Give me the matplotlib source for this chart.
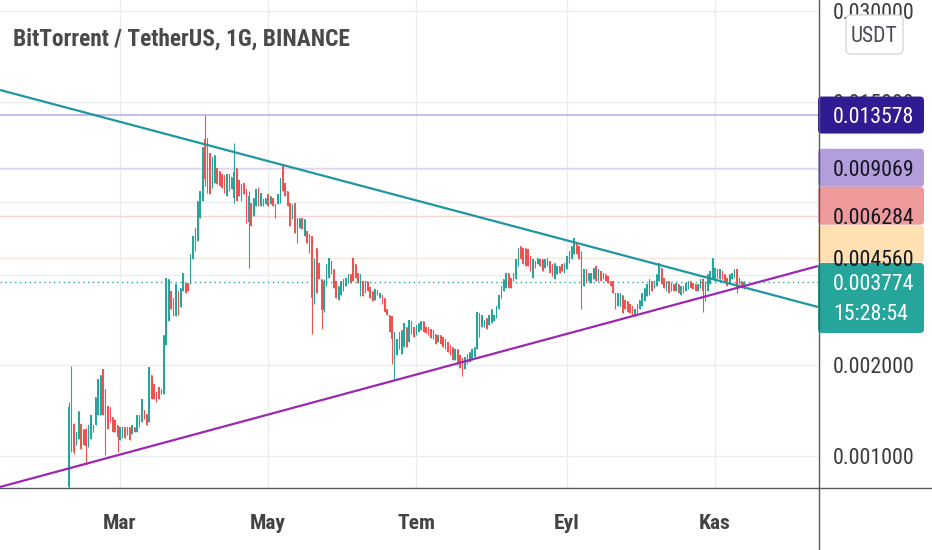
import os
import numpy as np
import pandas as pd
import matplotlib
matplotlib.use('Agg')
import matplotlib.pyplot as plt
import matplotlib.dates as mdates
from matplotlib import font_manager as fm
from matplotlib.lines import Line2D
from matplotlib.patches import FancyBboxPatch
from matplotlib.transforms import IdentityTransform
from matplotlib.ticker import NullLocator

# Daily BTT/USDT candles starting 2021-02-08, prices in micro-USDT (1e-6).
start_day = '2021-02-08'
opens = [
    790, 1040, 1280, 1090, 1135, 1280, 1230, 1230, 1070, 1135,
    1200, 1270, 1370, 1370, 1950, 1675, 1470, 1450, 1350, 1320,
    1270, 1130, 1150, 1250, 1170, 1250, 1180, 1250, 1200, 1250,
    1300, 1420, 1380, 1300, 1860, 1735, 1630, 1700, 1605, 1605,
    2330, 2800, 3530, 3340, 2910, 3530, 3120, 3530, 3750, 3750,
    3720, 4510, 4800, 5180, 6190, 7050, 11300, 11370, 10130, 7790,
    8100, 9080, 8880, 8680, 8550, 7330, 7620, 7730, 7200, 9080,
    8230, 7050, 8100, 7730, 6000, 6940, 6280, 6790, 7790, 6790,
    6790, 6890, 7440, 6890, 7220, 6890, 6890, 6940, 9230, 8100,
    7620, 6940, 6140, 6940, 5100, 5730, 6190, 5390, 5600, 5470,
    5390, 3340, 4910, 4380, 3870, 3050, 3670, 3900, 4440, 4180,
    3810, 3310, 3440, 3530, 3670, 3750, 4020, 4550, 4340, 4050,
    3390, 3810, 3470, 3810, 3640, 3530, 3310, 3560, 3340, 3440,
    3340, 3090, 2950, 2910, 2400, 2170, 2260, 2190, 2310, 2690,
    2400, 2800, 2690, 2530, 2590, 2630, 2800, 2690, 2690, 2650,
    2450, 2550, 2400, 2530, 2490, 2450, 2400, 2330, 2310, 2090,
    2260, 2170, 2110, 1940, 2020, 2060, 2090, 2140, 2270, 2490,
    2690, 2690, 2870, 2730, 2760, 2800, 2870, 3070, 3340, 3530,
    3610, 4050, 3900, 3810, 3870, 4280, 4990, 4910, 4910, 4870,
    4620, 3900, 4210, 4340, 4510, 4510, 4210, 4280, 4440, 4340,
    3870, 4020, 4280, 4340, 4050, 4180, 4380, 4510, 4690, 5060,
    4990, 4730, 3670, 4180, 3810, 3750, 3870, 4280, 3810, 4110,
    4050, 4020, 3960, 3810, 3810, 3470, 3140, 3160, 3440, 3310,
    3270, 3190, 3140, 2910, 2980, 3070, 3160, 3270, 3390, 3440,
    3810, 3610, 3670, 3810, 4210, 3900, 3530, 3810, 3750, 3720,
    3530, 3720, 3440, 3670, 3530, 3580, 3810, 3750, 3720, 3530,
    3610, 3870, 3500, 3530, 3720, 3870, 3810, 4180, 3870, 4110,
    4020, 3900, 3750, 3870, 3900, 4180, 3720, 3810, 3620,
]
highs = [
    1510, 1995, 1290, 1200, 1410, 1280, 1230, 1235, 1270, 1370,
    1270, 1570, 1800, 1860, 1950, 1675, 1470, 1450, 1350, 1320,
    1270, 1250, 1250, 1250, 1250, 1250, 1270, 1250, 1370, 1370,
    1545, 1420, 1380, 1980, 1860, 1735, 1630, 1700, 1675, 2530,
    3900, 3870, 3530, 3340, 3720, 3530, 3610, 4050, 3750, 3750,
    4690, 5390, 5730, 7050, 7620, 10610, 13580, 11370, 10130, 9820,
    9970, 9080, 8880, 8680, 8550, 8680, 8680, 8420, 10940, 9080,
    8230, 8040, 8100, 7730, 7620, 6940, 7220, 7730, 7790, 7500,
    7160, 7220, 7440, 7330, 7220, 6890, 7440, 8360, 9230, 8100,
    7620, 6940, 6890, 6940, 6190, 6190, 6190, 6140, 5600, 5470,
    5390, 4550, 4910, 4380, 3870, 3870, 4340, 4550, 4440, 4180,
    3810, 3670, 3810, 3870, 3900, 4020, 4020, 4550, 4340, 4050,
    4020, 3810, 3810, 3810, 3640, 3530, 3580, 3560, 3470, 3440,
    3340, 3090, 2950, 2910, 2590, 2450, 2590, 2630, 2760, 2690,
    2840, 2800, 2690, 2730, 2760, 2800, 2800, 2690, 2690, 2650,
    2630, 2550, 2530, 2530, 2490, 2450, 2400, 2330, 2310, 2270,
    2260, 2170, 2110, 2140, 2190, 2220, 2260, 2310, 3020, 2980,
    2950, 2840, 2870, 2950, 3070, 2950, 3160, 3440, 3670, 3870,
    4050, 4050, 3900, 4050, 4510, 4910, 4990, 4910, 4910, 4870,
    4620, 4510, 4440, 4550, 4510, 4510, 4510, 4550, 4440, 4340,
    4380, 4280, 4280, 4340, 4380, 4620, 4800, 4990, 5300, 5060,
    4990, 4800, 4180, 4180, 4050, 4050, 4210, 4280, 4180, 4110,
    4050, 4020, 3960, 3810, 3810, 3470, 3470, 3470, 3440, 3310,
    3270, 3190, 3140, 3090, 3190, 3310, 3470, 3610, 3720, 3870,
    3810, 3810, 4020, 4380, 4210, 3900, 3810, 3810, 3750, 3720,
    3750, 3720, 3670, 3670, 3750, 3810, 3810, 3750, 3720, 3720,
    3870, 3900, 3810, 4020, 4110, 4550, 4210, 4180, 4180, 4110,
    4020, 3900, 4020, 4050, 4180, 4180, 3900, 3810, 3810,
]
lows = [
    760, 1030, 1015, 1090, 1135, 1055, 1090, 935, 1070, 1135,
    1200, 1270, 1370, 1370, 1370, 1005, 1230, 1300, 1200, 1200,
    1030, 1130, 1150, 1150, 1170, 1130, 1180, 1200, 1200, 1250,
    1300, 1330, 1270, 1300, 1545, 1545, 1510, 1545, 1605, 1605,
    2330, 2800, 3070, 2910, 2910, 2950, 3120, 3530, 3470, 3530,
    3720, 4510, 4800, 5180, 6190, 7050, 7910, 7500, 7440, 7790,
    8100, 8040, 7910, 7790, 7500, 7330, 7620, 7730, 6940, 7050,
    7330, 7050, 7440, 5960, 4210, 5820, 6280, 6790, 6790, 6790,
    6790, 6890, 6790, 6890, 6790, 6190, 6890, 6940, 7620, 7330,
    6790, 5820, 6140, 5510, 5100, 5730, 5690, 5390, 5100, 4730,
    2550, 3200, 3470, 3870, 2650, 3020, 3670, 3900, 4020, 3610,
    3340, 3310, 3440, 3530, 3670, 3750, 3750, 3810, 3900, 3750,
    3390, 3390, 3470, 3530, 3340, 3270, 3310, 3420, 3340, 3190,
    3020, 2950, 2590, 2020, 1790, 2170, 2260, 2190, 2310, 2310,
    2400, 2550, 2490, 2530, 2590, 2630, 2590, 2570, 2530, 2470,
    2450, 2360, 2400, 2360, 2310, 2260, 2220, 2170, 2090, 2090,
    2020, 1960, 1850, 1940, 2020, 2060, 2090, 2140, 2270, 2490,
    2690, 2690, 2650, 2730, 2760, 2800, 2870, 3070, 3340, 3530,
    3610, 3610, 3610, 3810, 3870, 4280, 4510, 4340, 4280, 4280,
    4110, 3900, 4210, 4340, 4280, 4110, 4210, 4280, 4050, 3960,
    3870, 4020, 4050, 4110, 4050, 4180, 4380, 4510, 4690, 4690,
    4510, 3070, 3670, 3750, 3810, 3750, 3870, 3810, 3810, 3810,
    3870, 3810, 3750, 3670, 3470, 3070, 3140, 3160, 2980, 3070,
    3020, 2980, 2950, 2910, 2980, 3070, 3160, 3270, 3390, 3440,
    3530, 3610, 3670, 3810, 3720, 3610, 3530, 3470, 3530, 3530,
    3530, 3470, 3440, 3470, 3530, 3580, 3610, 3580, 3530, 3530,
    3610, 3020, 3270, 3530, 3720, 3870, 3810, 3900, 3870, 3870,
    3810, 3670, 3750, 3870, 3900, 3470, 3720, 3610, 3580,
]
closes = [
    1450, 1960, 1030, 1200, 1410, 1055, 1090, 1080, 1270, 1370,
    1270, 1570, 1800, 1860, 1370, 1320, 1230, 1300, 1200, 1200,
    1160, 1250, 1250, 1150, 1250, 1130, 1270, 1200, 1370, 1370,
    1545, 1330, 1270, 1980, 1545, 1545, 1510, 1545, 1675, 2530,
    3900, 3870, 3070, 2910, 3720, 2950, 3610, 4050, 3470, 3530,
    4690, 5390, 5730, 7050, 7620, 10610, 8300, 7500, 7440, 9820,
    9970, 8040, 7910, 7790, 7500, 8680, 8680, 8420, 8800, 7050,
    7330, 8040, 7440, 5960, 7300, 5820, 7220, 7730, 6790, 7500,
    7160, 7220, 6790, 7330, 6790, 6190, 7440, 8360, 7620, 7330,
    6790, 5820, 6890, 5510, 6190, 6190, 5690, 6140, 5100, 4730,
    3340, 4450, 3470, 3870, 3050, 3800, 4340, 4550, 4020, 3610,
    3340, 3670, 3810, 3870, 3900, 4020, 3750, 3810, 3900, 3750,
    4020, 3390, 3810, 3530, 3340, 3270, 3580, 3420, 3470, 3190,
    3020, 2950, 2590, 2450, 2590, 2450, 2590, 2630, 2760, 2310,
    2840, 2550, 2490, 2730, 2760, 2800, 2590, 2570, 2530, 2470,
    2630, 2360, 2530, 2360, 2310, 2260, 2220, 2170, 2090, 2270,
    2020, 1960, 1850, 2140, 2190, 2220, 2260, 2310, 3020, 2980,
    2950, 2840, 2650, 2950, 3070, 2950, 3160, 3440, 3670, 3870,
    4050, 3610, 3610, 4050, 4510, 4910, 4510, 4340, 4280, 4280,
    4110, 4510, 4440, 4550, 4280, 4110, 4510, 4550, 4050, 3960,
    4380, 4280, 4050, 4110, 4380, 4620, 4800, 4990, 5300, 4690,
    4510, 3670, 4180, 3750, 4050, 4050, 4210, 3810, 4180, 3810,
    3870, 3810, 3750, 3670, 3470, 3070, 3470, 3470, 2980, 3070,
    3020, 2980, 2950, 3090, 3190, 3310, 3470, 3610, 3720, 3870,
    3530, 3810, 4020, 4380, 3720, 3610, 3810, 3470, 3530, 3530,
    3750, 3470, 3670, 3470, 3750, 3810, 3610, 3580, 3530, 3720,
    3870, 3530, 3780, 4020, 4110, 4550, 4210, 3900, 4180, 3870,
    3810, 3670, 4020, 4050, 4180, 3610, 3900, 3610, 3774,
]

title = 'BitTorrent / TetherUS, 1G, BINANCE'
month_ticks = ['2021-03-01', '2021-05-01', '2021-07-01', '2021-09-01', '2021-11-01']
month_labels = ['Mar', 'May', 'Tem', 'Eyl', 'Kas']
price_ticks = [0.001, 0.002, 0.004, 0.007, 0.009, 0.015, 0.03]
# the 0.004 / 0.007 / 0.009 labels sit under the level tags, so they stay blank
price_tick_labels = ['0.001000', '0.002000', '', '', '', '0.015000', '0.030000']

# horizontal levels and their axis tags
levels = [0.013578, 0.009069, 0.006284, 0.004560]
level_labels = ['0.013578', '0.009069', '0.006284', '0.004560']
last_price = 0.003774
last_label = '0.003774'
countdown = '15:28:54'

# trend lines, given by their two ends
res_dates = ['2021-01-10 14:00', '2021-12-13 10:00']
res_prices = [0.016447, 0.0031266]
sup_dates = ['2021-01-10 14:00', '2021-12-13 10:00']
sup_prices = [0.000789, 0.0042775]

UP, DOWN = '#26a69a', '#ef5350'
W, H = 932, 550


def pick_font(target):
    prefs = [('Roboto Condensed', ''), ('Liberation Sans Narrow', ''),
             ('DejaVu Sans', 'Condensed'), ('Roboto', None)]
    for fam, key in prefs:
        cands = []
        for f in fm.fontManager.ttflist:
            base = os.path.basename(f.fname)
            if f.style != 'normal':
                continue
            if key is None:
                ok = f.name == fam and 'Condensed' not in base
            else:
                ok = f.name.startswith(fam) and key in base
            if ok:
                w = f.weight if isinstance(f.weight, (int, float)) else fm.weight_dict.get(f.weight, 400)
                cands.append((abs(w - target), f.fname))
        if cands:
            return fm.FontProperties(fname=min(cands)[1])
    return fm.FontProperties(family='DejaVu Sans', weight=target)


fig = plt.figure(figsize=(W / 100, H / 100), dpi=100)
ax = fig.add_axes([0, 62 / H, 818 / W, 488 / H])
renderer = fig.canvas.get_renderer()


def fitted(prop, text, width_px):
    p = prop.copy()
    p.set_size(10)
    w, _, _ = renderer.get_text_width_height_descent(text, p, ismath=False)
    p.set_size(10 * width_px / w)
    return p


regular = pick_font(400)
bold = pick_font(700)
title_prop = fitted(bold, title, 336)
month_prop = fitted(bold, 'May', 36)
price_prop = fitted(regular, '0.002000', 80)
usdt_prop = fitted(regular, 'USDT', 47)

# candles
dates = mdates.date2num(pd.date_range(start_day, periods=len(closes), freq='D'))
o = np.array(opens) * 1e-6
h = np.array(highs) * 1e-6
l = np.array(lows) * 1e-6
c = np.array(closes) * 1e-6
colors = np.where(c >= o, UP, DOWN)

ax.set_yscale('log')
ax.set_axisbelow(True)
ax.grid(True, color='#e9ecf1', lw=1.0)

ax.axhline(levels[0], color='#c4bcea', lw=1.4, zorder=1)
ax.axhline(levels[1], color='#dcd4f0', lw=1.0, zorder=1)
ax.axhline(levels[2], color='#f4d3d3', lw=1.0, zorder=1)
ax.axhline(levels[3], color='#f4e8da', lw=1.0, zorder=1)
ax.axhline(last_price, color=UP, lw=1.0, ls=(0, (1, 2.5)), zorder=1)

ax.vlines(dates, l, h, colors=colors, lw=0.8, zorder=3)
ax.bar(dates, np.abs(c - o), bottom=np.minimum(o, c), width=0.62,
       color=colors, lw=0, zorder=3)

ax.plot(mdates.date2num(pd.to_datetime(res_dates)), res_prices,
        color='#1d97a1', lw=1.6, zorder=4, solid_capstyle='butt')
ax.plot(mdates.date2num(pd.to_datetime(sup_dates)), sup_prices,
        color='#9c27b0', lw=1.6, zorder=4, solid_capstyle='butt')

t0 = pd.Timestamp(start_day)
ax.set_xlim(mdates.date2num(t0 - pd.Timedelta(days=28.41)),
            mdates.date2num(t0 + pd.Timedelta(days=308.41)))
ax.set_ylim(0.00078294, 0.032733)

for s in ax.spines.values():
    s.set_visible(False)

ax.tick_params(axis='x', length=0, pad=29.5)
ax.set_xticks(mdates.date2num(pd.to_datetime(month_ticks)))
ax.set_xticklabels(month_labels, fontproperties=month_prop, color='#434343', va='baseline')

ax.yaxis.tick_right()
ax.tick_params(axis='y', length=0, pad=10.8)
ax.set_yticks(price_ticks)
ax.set_yticklabels(price_tick_labels, fontproperties=price_prop, color='#3b3b3b')
ax.yaxis.set_minor_locator(NullLocator())
ax.xaxis.set_minor_locator(NullLocator())

# frame lines of the price and time scales
fig.add_artist(Line2D([818.5, 818.5], [0, H], transform=IdentityTransform(), color='#55585f', lw=1.0))
fig.add_artist(Line2D([0, W], [62, 62], transform=IdentityTransform(), color='#55585f', lw=1.0))

fig.text(13 / W, 1 - 46 / H, title, fontproperties=title_prop, color='#4a4a4a', va='baseline')


def price_y(price):
    return ax.transData.transform((ax.get_xlim()[0], price))[1]


def tag(price, lines, face, tcolor, top_off, bot_off):
    y = price_y(price)
    box = FancyBboxPatch((818, y - bot_off), 106, top_off + bot_off,
                         boxstyle='round,pad=0,rounding_size=4', fc=face, ec='none',
                         transform=IdentityTransform())
    fig.add_artist(box)
    for i, s in enumerate(lines):
        fig.text(833, y - 30 * i, s, transform=IdentityTransform(), fontproperties=price_prop,
                 color=tcolor, va='center_baseline', ha='left')


tag(levels[0], [level_labels[0]], '#311b92', 'white', 18.5, 18.5)
tag(levels[1], [level_labels[1]], '#b39ddb', '#131722', 19, 19)
tag(levels[2], [level_labels[2]], '#ef9a9a', '#131722', 29, 9)
tag(levels[3], [level_labels[3]], '#ffe0b2', '#131722', 32, 5)
tag(last_price, [last_label, countdown], UP, 'white', 19.4, 50.6)

usdt = FancyBboxPatch((846, H - 54), 57, 39, boxstyle='round,pad=0,rounding_size=5',
                      fc='white', ec='#d4d7de', lw=1.0, transform=IdentityTransform())
fig.add_artist(usdt)
fig.text(874.5, H - 34.5, 'USDT', transform=IdentityTransform(), fontproperties=usdt_prop,
         color='#4a4d55', ha='center', va='center_baseline')

fig.savefig('out.png', dpi=100)
